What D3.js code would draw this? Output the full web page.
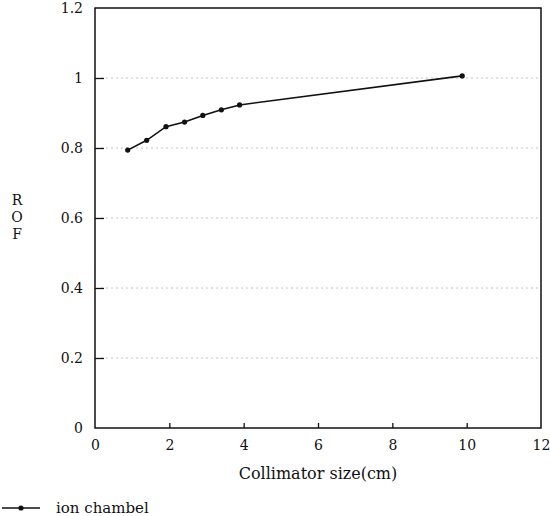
<!DOCTYPE html>
<html>
<head>
<meta charset="utf-8">
<script src="https://cdn.jsdelivr.net/npm/d3@7"></script>
<style>
  body { margin: 0; background: #fff; }
</style>
</head>
<body>
<div id="chart"></div>
<script>
// data
const collimatorSize = [0.88, 1.39, 1.91, 2.41, 2.90, 3.40, 3.89, 9.88];
const rofValues = [0.794, 0.822, 0.861, 0.874, 0.893, 0.909, 0.923, 1.006];
const xTicks = [0, 2, 4, 6, 8, 10, 12];
const yTicks = [0, 0.2, 0.4, 0.6, 0.8, 1, 1.2];
const seriesName = "ion chambel";

const serif = "DejaVu Serif";

const width = 550, height = 516;
const margin = {top: 8, right: 9, bottom: 88, left: 95};
const w = width - margin.left - margin.right;
const h = height - margin.top - margin.bottom;

const svg = d3.select("#chart").append("svg")
    .attr("width", width)
    .attr("height", height)
    .attr("font-family", serif);

const g = svg.append("g")
    .attr("transform", "translate(" + margin.left + "," + margin.top + ")");

const x = d3.scaleLinear().domain([0, 12]).range([0, w]);
const y = d3.scaleLinear().domain([0, 1.2]).range([h, 0]);

// faint dotted grid
g.selectAll(".grid")
    .data(yTicks.filter(d => d > 0 && d < 1.2))
    .enter().append("line")
    .attr("class", "grid")
    .attr("x1", 6).attr("x2", w)
    .attr("y1", d => y(d)).attr("y2", d => y(d))
    .attr("stroke", "#c4c4c4")
    .attr("stroke-width", 1)
    .attr("stroke-dasharray", "2,3");

// frame
g.append("rect")
    .attr("width", w).attr("height", h)
    .attr("fill", "none")
    .attr("stroke", "#111")
    .attr("stroke-width", 1.5);

// axes with inward ticks
const xAxis = d3.axisBottom(x).tickValues(xTicks).tickSize(-5).tickPadding(12);
const yAxis = d3.axisLeft(y).tickValues(yTicks).tickSize(-9).tickPadding(12)
    .tickFormat(d => d3.format("")(d));

const gx = g.append("g")
    .attr("transform", "translate(0," + h + ")")
    .call(xAxis);
const gy = g.append("g").call(yAxis);

[gx, gy].forEach(a => {
    a.attr("font-family", serif).attr("font-size", 14);
    a.select(".domain").remove();
    a.selectAll("line").attr("stroke", "#111").attr("stroke-width", 1.3);
    a.selectAll("text").attr("fill", "#111");
});
gx.selectAll(".tick").filter(d => d === 0 || d === 12).select("line").remove();
gy.selectAll(".tick").filter(d => d === 0 || d === 1.2).select("line").remove();

// series
const pts = collimatorSize.map((d, i) => [d, rofValues[i]]);

g.append("path")
    .datum(pts)
    .attr("fill", "none")
    .attr("stroke", "#111")
    .attr("stroke-width", 1.6)
    .attr("d", d3.line().x(d => x(d[0])).y(d => y(d[1])));

g.selectAll(".pt")
    .data(pts)
    .enter().append("circle")
    .attr("class", "pt")
    .attr("cx", d => x(d[0]))
    .attr("cy", d => y(d[1]))
    .attr("r", 2.6)
    .attr("fill", "#111");

// axis titles
svg.append("text")
    .attr("x", margin.left + w / 2)
    .attr("y", 479)
    .attr("text-anchor", "middle")
    .attr("font-size", 16)
    .attr("fill", "#111")
    .text("Collimator size(cm)");

const yTitle = svg.append("text")
    .attr("x", 17)
    .attr("text-anchor", "middle")
    .attr("font-size", 14)
    .attr("fill", "#111");
["R", "O", "F"].forEach((c, i) => {
    yTitle.append("tspan")
        .attr("x", 17)
        .attr("y", 205 + i * 17)
        .text(c);
});

// legend
const leg = svg.append("g").attr("transform", "translate(0,508)");
leg.append("line")
    .attr("x1", 2).attr("x2", 40)
    .attr("stroke", "#111").attr("stroke-width", 1.6);
leg.append("circle").attr("cx", 21).attr("r", 2.6).attr("fill", "#111");
leg.append("text")
    .attr("x", 56).attr("y", 5)
    .attr("font-size", 15)
    .attr("fill", "#111")
    .text(seriesName);
</script>
</body>
</html>
